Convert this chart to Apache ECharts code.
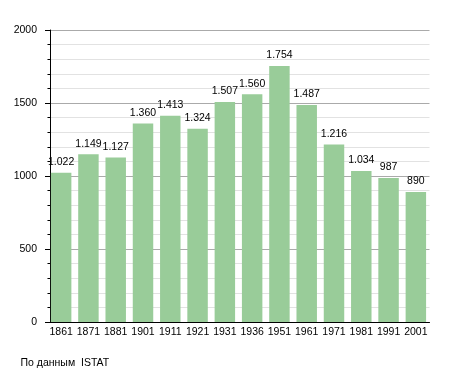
<!DOCTYPE html>
<html>
<head>
<meta charset="utf-8">
<script src="https://cdn.jsdelivr.net/npm/echarts@6/dist/echarts.min.js"></script>
<style>html,body{margin:0;padding:0;background:#fff;}#c{width:455px;height:373px;}</style>
</head>
<body>
<div id="c"></div>
<script>
const years = ['1861','1871','1881','1901','1911','1921','1931','1936','1951','1961','1971','1981','1991','2001'];
const population = [1022,1149,1127,1360,1413,1324,1507,1560,1754,1487,1216,1034,987,890];
const yTicks = [0,500,1000,1500,2000];
const sourceNote = 'По данным  ISTAT';

function fmt(v){
  const s = String(v);
  return s.length > 3 ? s.slice(0, s.length-3) + '.' + s.slice(-3) : s;
}
const FONT = '"Liberation Sans", Arial, sans-serif';
const chart = echarts.init(document.getElementById('c'), null, {renderer:'canvas'});
chart.setOption({
  animation:false,
  backgroundColor:'#fff',
  grid:{left:47.5, right:25.5, top:30, bottom:51, containLabel:false},
  xAxis:{
    type:'category',
    data:years,
    axisLine:{lineStyle:{color:'#000', width:1}},
    axisTick:{show:false},
    axisLabel:{color:'#000', fontSize:10.5, fontFamily:FONT, margin:5, interval:0}
  },
  yAxis:{
    type:'value',
    min:yTicks[0], max:yTicks[yTicks.length-1], interval:500,
    offset:-2.5,
    axisLine:{show:true, lineStyle:{color:'#000', width:1}},
    axisTick:{show:true, inside:false, length:5, lineStyle:{color:'#000'}},
    minorTick:{show:true, splitNumber:5, length:2.5, lineStyle:{color:'#000'}},
    splitLine:{show:true, lineStyle:{color:'#aaa', width:1}},
    minorSplitLine:{show:true, lineStyle:{color:'#e2e2e2', width:1}},
    axisLabel:{color:'#000', fontSize:10.5, fontFamily:FONT, margin:13, formatter:v=>String(v)}
  },
  series:[{
    type:'bar',
    data:population,
    barCategoryGap:'25%',
    itemStyle:{color:'#99cc99'},
    label:{show:true, position:'top', distance:5, color:'#000', fontSize:10.5, fontFamily:FONT,
      formatter:p=>fmt(p.value)}
  }],
  graphic:[{
    type:'text', left:20.5, top:357.5,
    style:{text:sourceNote, fill:'#000', fontSize:10.5, fontFamily:FONT}
  }]
});
</script>
</body>
</html>
